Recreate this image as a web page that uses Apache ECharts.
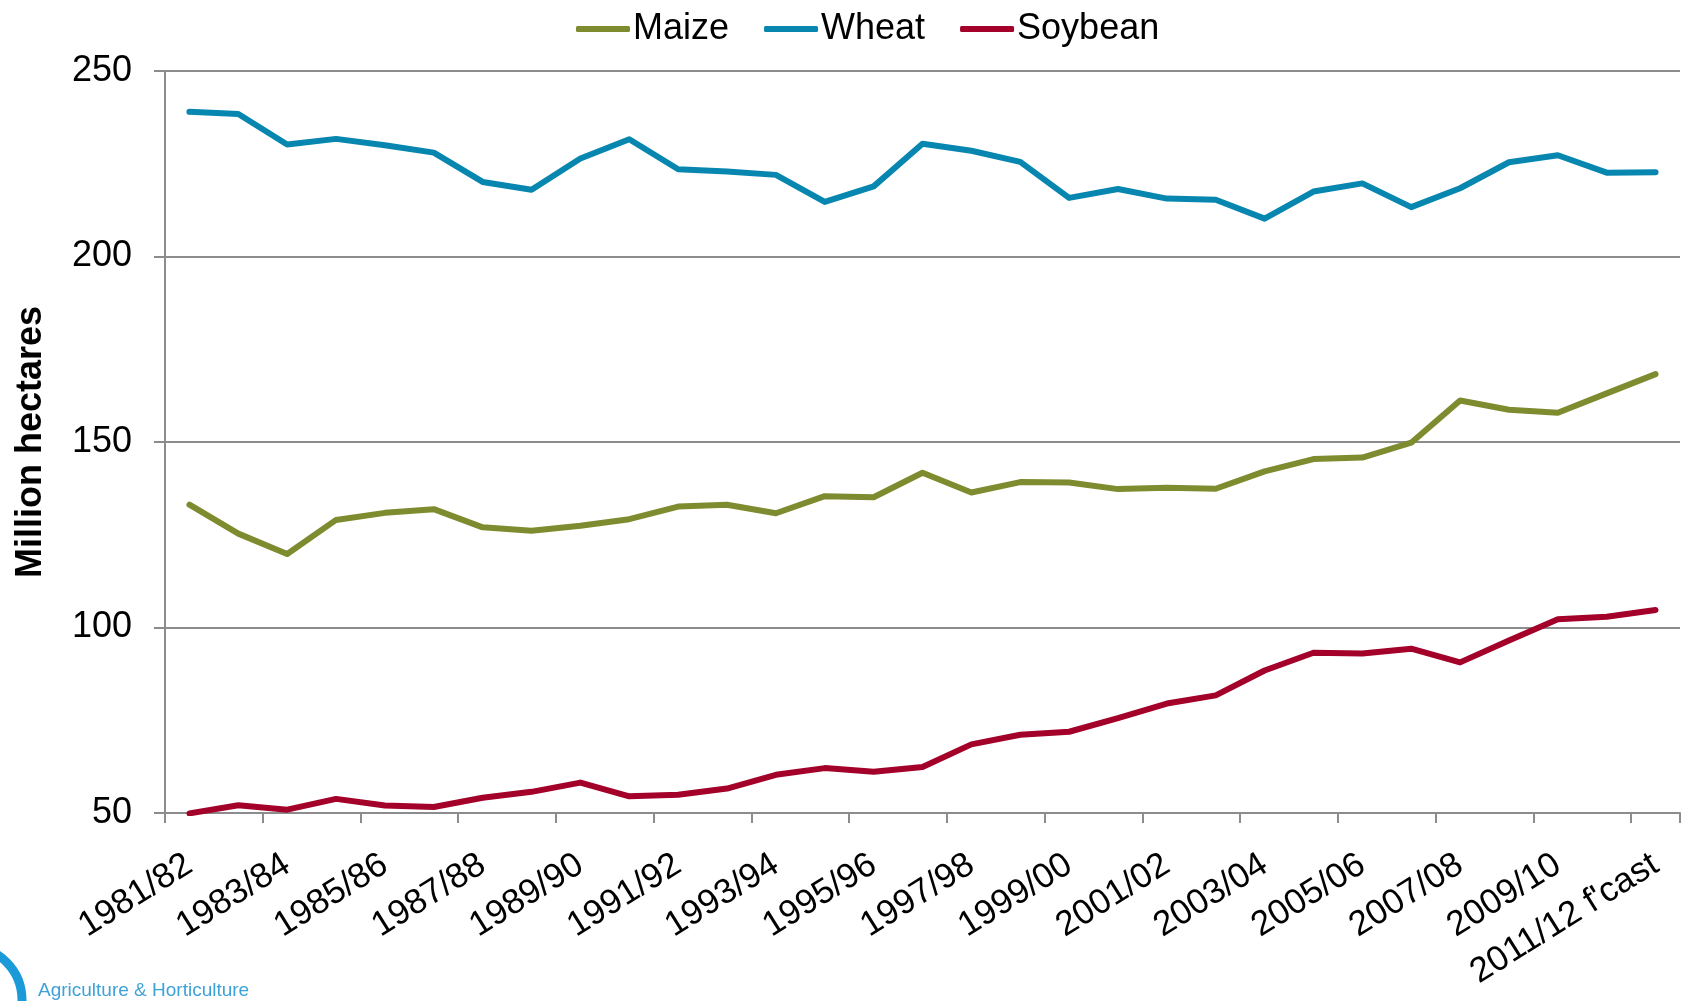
<!DOCTYPE html>
<html>
<head>
<meta charset="utf-8">
<script src="https://cdn.jsdelivr.net/npm/echarts@6/dist/echarts.min.js"></script>
<style>
  html, body { margin: 0; padding: 0; background: #fff; }
  #chart { width: 1689px; height: 1001px; }
</style>
</head>
<body>
<div id="chart"></div>
<script>
// crop years, 1981/82 .. 2011/12 (last one is a forecast)
var seasons = ['1981/82', '1982/83', '1983/84', '1984/85', '1985/86', '1986/87', '1987/88', '1988/89',
  '1989/90', '1990/91', '1991/92', '1992/93', '1993/94', '1994/95', '1995/96', '1996/97', '1997/98',
  '1998/99', '1999/00', '2000/01', '2001/02', '2002/03', '2003/04', '2004/05', '2005/06', '2006/07',
  '2007/08', '2008/09', '2009/10', '2010/11', "2011/12 f'cast"];

// million hectares
var maize = [133.1, 125.3, 119.8, 129.0, 130.9, 131.9, 127.0, 126.1, 127.4, 129.2, 132.6,
  133.1, 130.8, 135.4, 135.1, 141.7, 136.4, 139.2, 139.1, 137.3, 137.7, 137.4, 142.1,
  145.4, 145.8, 149.8, 161.2, 158.7, 157.9, 163.1, 168.3];
var wheat = [239.0, 238.4, 230.2, 231.7, 230.0, 228.0, 220.1, 218.0, 226.4, 231.6, 223.5,
  222.9, 222.0, 214.7, 218.9, 230.4, 228.5, 225.5, 215.8, 218.2, 215.6, 215.3, 210.2,
  217.5, 219.7, 213.3, 218.4, 225.4, 227.3, 222.6, 222.7];
var soybean = [49.9, 52.1, 50.9, 53.8, 52.0, 51.6, 54.1, 55.7, 58.2, 54.5, 54.9,
  56.6, 60.3, 62.1, 61.1, 62.4, 68.5, 71.1, 71.9, 75.6, 79.5, 81.7, 88.4,
  93.2, 93.0, 94.3, 90.6, 96.5, 102.2, 102.9, 104.7];

var yTicks = { min: 50, max: 250, step: 50 };

var font = '"Liberation Sans", Arial, sans-serif';
var grey = '#8c8c8c';

function lineSeries(name, data, color) {
  return {
    name: name,
    type: 'line',
    data: data,
    symbol: 'none',
    lineStyle: { color: color, width: 6, cap: 'round', join: 'round' },
    itemStyle: { color: color }
  };
}

var myChart = echarts.init(document.getElementById('chart'));

var option = {
  animation: false,
  textStyle: { fontFamily: font },
  legend: {
    left: 571,
    top: 6,
    icon: 'roundRect',
    itemWidth: 54,
    itemHeight: 6,
    itemGap: 35,
    textStyle: { fontSize: 36, color: '#000', fontFamily: font, padding: [0, 0, 0, -2] },
    data: ['Maize', 'Wheat', 'Soybean']
  },
  grid: { left: 165, right: 9, top: 71, bottom: 188, containLabel: false },
  xAxis: {
    type: 'category',
    data: seasons,
    boundaryGap: true,
    axisLine: { lineStyle: { color: grey, width: 2 } },
    axisTick: { show: true, interval: 1, length: 10, lineStyle: { color: grey, width: 2 } },
    axisLabel: {
      interval: 1,
      rotate: 32,
      margin: 49,
      fontSize: 35,
      color: '#000',
      fontFamily: font
    },
    splitLine: { show: false }
  },
  yAxis: {
    type: 'value',
    min: yTicks.min,
    max: yTicks.max,
    interval: yTicks.step,
    name: 'Million hectares',
    nameLocation: 'middle',
    nameGap: 116,
    nameRotate: 90,
    nameTextStyle: { fontSize: 36, fontWeight: 'bold', color: '#000', fontFamily: font },
    axisLine: { show: true, lineStyle: { color: grey, width: 2 } },
    axisTick: { show: true, length: 11, lineStyle: { color: grey, width: 2 } },
    axisLabel: { fontSize: 36, color: '#000', margin: 33, fontFamily: font },
    splitLine: { show: true, lineStyle: { color: grey, width: 2 } }
  },
  graphic: [
    {
      type: 'arc',
      shape: { cx: -32, cy: 1000, r: 54, startAngle: -Math.PI / 2, endAngle: 0.2 },
      style: { stroke: '#1a9ad8', lineWidth: 9, fill: null }
    },
    {
      type: 'text',
      left: 38,
      top: 981,
      style: { text: 'Agriculture & Horticulture', fontSize: 19, fill: '#3ea2da', fontFamily: font }
    }
  ],
  series: [
    lineSeries('Maize', maize, '#7f8b2f'),
    lineSeries('Wheat', wheat, '#0786af'),
    lineSeries('Soybean', soybean, '#a3002a')
  ]
};

myChart.setOption(option);
</script>
</body>
</html>
